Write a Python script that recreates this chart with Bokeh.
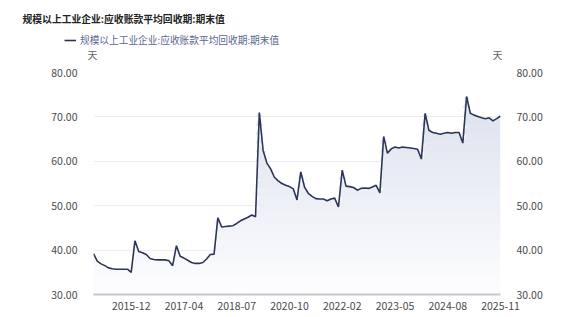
import numpy as np
from bokeh.plotting import figure
from bokeh.layouts import column
from bokeh.models import (Range1d, LinearAxis, FixedTicker, Label, Legend, LegendItem,
                          NumeralTickFormatter)
from bokeh.embed import file_html
from bokeh.resources import INLINE

# ---------------- data ----------------
title_text = "规模以上工业企业:应收账款平均回收期:期末值"
series_name = "规模以上工业企业:应收账款平均回收期:期末值"
unit_text = "天"

# monthly data, January merged into February, 2019 absent in the source
years = [2015, 2016, 2017, 2018, 2020, 2021, 2022, 2023, 2024, 2025]
months = [f"{y}-{m:02d}" for y in years for m in range(2, 13)][:-1]  # ends 2025-11

values = [
    39.2, 37.5, 36.9, 36.5, 36.0, 35.8, 35.7, 35.7, 35.7, 35.7, 35.0,   # 2015
    42.1, 39.7, 39.4, 39.0, 38.1, 37.9, 37.8, 37.8, 37.8, 37.6, 36.5,   # 2016
    41.0, 38.6, 38.2, 37.7, 37.2, 37.0, 37.0, 37.2, 38.0, 39.0, 39.1,   # 2017
    47.3, 45.2, 45.3, 45.4, 45.5, 46.0, 46.6, 47.0, 47.4, 47.9, 47.5,   # 2018
    71.0, 62.5, 59.6, 58.3, 56.4, 55.6, 55.0, 54.6, 54.3, 53.8, 51.3,   # 2020
    57.6, 54.2, 52.8, 52.1, 51.6, 51.5, 51.5, 51.1, 51.5, 51.7, 49.7,   # 2021
    58.0, 54.4, 54.3, 54.1, 53.5, 53.9, 54.0, 53.9, 54.2, 54.6, 52.9,   # 2022
    65.6, 61.8, 62.8, 63.2, 63.0, 63.2, 63.1, 63.0, 62.9, 62.7, 60.5,   # 2023
    70.8, 67.0, 66.5, 66.3, 66.1, 66.3, 66.5, 66.3, 66.5, 66.5, 64.1,   # 2024
    74.6, 70.8, 70.4, 70.1, 69.8, 69.6, 69.8, 69.1, 69.6, 70.2,         # 2025
]
label_every = 14
x_tick_positions = list(range(10, len(months), label_every))
if x_tick_positions[-1] != len(months) - 1:
    x_tick_positions.append(len(months) - 1)
x_tick_labels = [months[i] for i in x_tick_positions]
y_ticks = [30, 40, 50, 60, 70, 80]

# ---------------- layout constants ----------------
W, H = 567, 317
HEAD = 62
FL, FR, FT, FB = 93, 67, 72, 23
FONT = "Noto Sans CJK SC"

xs = np.arange(len(values))
vals = np.array(values, dtype=float)

# ---------------- header (title, legend, units) ----------------
head = figure(width=W, height=HEAD, output_backend="svg", toolbar_location=None,
              x_range=Range1d(0, W), y_range=Range1d(HEAD, 0),
              x_axis_type=None, y_axis_type=None,
              min_border=0, min_border_left=0, min_border_right=0,
              min_border_top=0, min_border_bottom=0,
              background_fill_color="white", border_fill_color="white",
              outline_line_color=None)
head.xgrid.visible = False
head.ygrid.visible = False

head.add_layout(Label(x=22, y=18, text=title_text, text_font=FONT,
                      text_font_size="9.8px", text_font_style="bold",
                      text_color="#222222", text_baseline="middle"))
head.add_layout(Label(x=92, y=54, text=unit_text, text_font=FONT,
                      text_font_size="10px", text_color="#666666",
                      text_baseline="middle", text_align="center"))
head.add_layout(Label(x=497, y=54, text=unit_text, text_font=FONT,
                      text_font_size="10px", text_color="#666666",
                      text_baseline="middle", text_align="center"))

legend_line = head.line([-10, -5], [-10, -10], line_color="#2b3656", line_width=1.6)
legend = Legend(items=[LegendItem(label=series_name, renderers=[legend_line])],
                location=(64, HEAD - 47), orientation="horizontal",
                background_fill_alpha=0, border_line_alpha=0, padding=0, margin=0,
                glyph_width=12, glyph_height=14, label_height=14, label_standoff=4,
                label_text_font=FONT, label_text_font_size="9.7px",
                label_text_color="#5a6790")
head.add_layout(legend, "center")

# ---------------- main chart ----------------
p = figure(width=W, height=H - HEAD, output_backend="svg", toolbar_location=None,
           x_range=Range1d(0, len(values) - 1), y_range=Range1d(30, 80),
           min_border_left=FL, min_border_right=FR, min_border_top=FT - HEAD,
           min_border_bottom=FB,
           background_fill_color="white", border_fill_color="white",
           outline_line_color=None)

for fig in (head, p):
    try:
        fig.frame_align = False
    except Exception:
        pass

# gradient-like area fill made of horizontal bands
top_c = np.array([0xdc, 0xe1, 0xee])
bot_c = np.array([0xfd, 0xfd, 0xfe])
edges = np.linspace(30, 80, 26)
for a, b in zip(edges[:-1], edges[1:]):
    t = min(1.0, ((a + b) / 2 - 30) / 45.0)
    c = (bot_c + (top_c - bot_c) * t).round().astype(int)
    col = "#%02x%02x%02x" % tuple(c)
    y2 = np.clip(vals, a, b + 0.08)
    p.varea(xs, y1=np.full(len(xs), a), y2=y2, fill_color=col, fill_alpha=1.0)

p.line(xs, vals, line_color="#2b3656", line_width=1.6)

p.xaxis.ticker = FixedTicker(ticks=x_tick_positions)
p.xaxis.major_label_overrides = {t: l for t, l in zip(x_tick_positions, x_tick_labels)}
p.xaxis.axis_line_color = "#c3c7d0"
p.xaxis.axis_line_width = 2
p.xaxis.major_tick_line_color = None
p.xaxis.minor_tick_line_color = None
p.xaxis.major_label_text_font = FONT
p.xaxis.major_label_text_font_size = "10.5px"
p.xaxis.major_label_text_color = "#4a4a4a"
p.xaxis.major_label_standoff = 1

p.yaxis.ticker = FixedTicker(ticks=y_ticks)
p.yaxis.formatter = NumeralTickFormatter(format="0.00")
right_axis = LinearAxis(ticker=FixedTicker(ticks=y_ticks),
                        formatter=NumeralTickFormatter(format="0.00"))
p.add_layout(right_axis, "right")
for ax in [p.yaxis[0], right_axis]:
    ax.axis_line_color = None
    ax.major_tick_line_color = None
    ax.minor_tick_line_color = None
    ax.major_label_text_font = FONT
    ax.major_label_text_font_size = "10.5px"
    ax.major_label_text_color = "#4a4a4a"
    ax.major_label_standoff = 10

p.xgrid.grid_line_color = None
p.ygrid.ticker = FixedTicker(ticks=y_ticks)
p.ygrid.grid_line_color = "#eceef3"
p.ygrid.grid_line_width = 1

layout = column(head, p, spacing=0)
open("out.html", "w").write(file_html(layout, INLINE))
